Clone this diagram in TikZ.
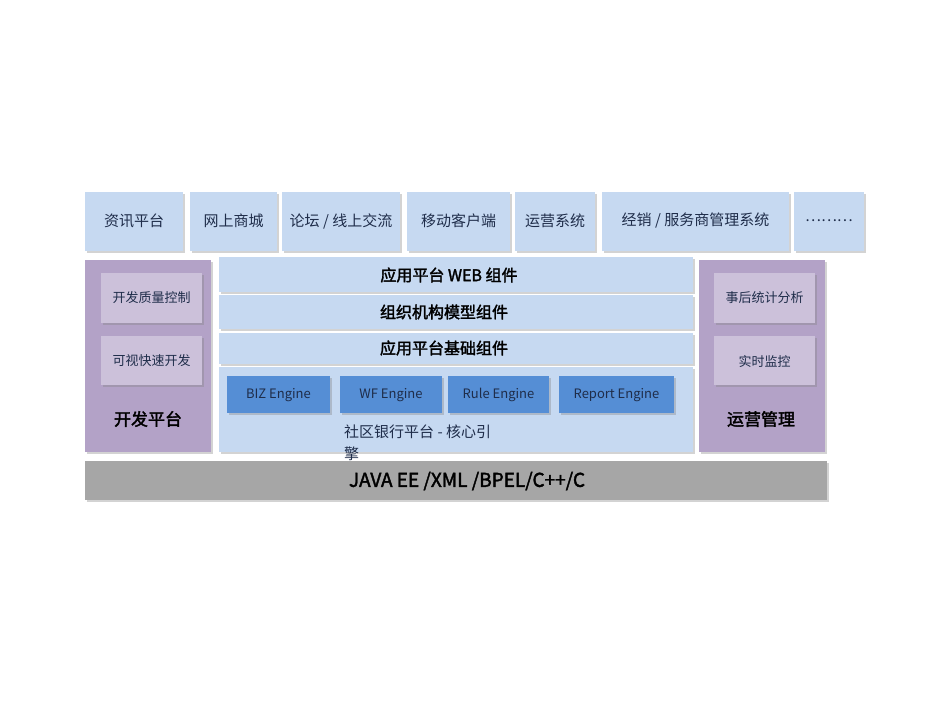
\documentclass[tikz,border=0pt]{standalone}
\usepackage{fontspec}
\setmainfont{Noto Sans CJK SC}
\newfontfamily\cjkb[FakeBold=2]{Noto Sans CJK SC}
\usetikzlibrary{shadows}
\definecolor{lb}{HTML}{C6D9F1}
\definecolor{pu}{HTML}{B3A2C7}
\definecolor{lp}{HTML}{CCC1DA}
\definecolor{eb}{HTML}{558ED5}
\definecolor{gr}{HTML}{A6A6A6}
\definecolor{tx}{HTML}{1F2D4A}
\tikzset{x=1pt,y=-1pt,
 bx/.style={drop shadow={shadow xshift=1.5pt,shadow yshift=-1.5pt,opacity=0.35,fill=black!50}},
 lab/.style={font=\fontsize{15}{18}\selectfont,text=tx},
 sm/.style={font=\fontsize{13}{16}\selectfont,text=tx},
 hd/.style={font=\cjkb\fontsize{16}{19}\selectfont,text=black}}
\begin{document}
\begin{tikzpicture}
\useasboundingbox (0,0) rectangle (950,713);
% top row
\foreach \a/\b/\t [count=\i] in {85/183/{资讯平台},190/277/{网上商城},282/400/{论坛 / 线上交流},407/510/{移动客户端},515/595/{运营系统},602/789/{经销 / 服务商管理系统},794/864/{\ldots\ldots\ldots}}{
 \fill[lb,bx] (\a,192) rectangle (\b,251);
 \node[lab] (t\i) at ({(\a+\b)/2},221) {\t};
}
% left purple
\fill[pu,bx] (85,260) rectangle (211,452);
\fill[lp,bx] (101,273) rectangle (202,323);
\fill[lp,bx] (101,336) rectangle (202,385);
\node[sm] (l1) at (151.5,298) {开发质量控制};
\node[sm] (l2) at (151.5,361) {可视快速开发};
\node[hd,font=\cjkb\fontsize{17}{20}\selectfont] (l3) at (148,419) {开发平台};
% right purple
\fill[pu,bx] (699,260) rectangle (825,452);
\fill[lp,bx] (714,273) rectangle (815,323);
\fill[lp,bx] (714,336) rectangle (815,385);
\node[sm] (r1) at (764.5,298) {事后统计分析};
\node[sm] (r2) at (764.5,361) {实时监控};
\node[hd,font=\cjkb\fontsize{17}{20}\selectfont] (r3) at (761,419) {运营管理};
% middle
\fill[lb,bx] (219,257) rectangle (693,292);
\fill[lb,bx] (219,295) rectangle (693,329);
\fill[lb,bx] (219,333) rectangle (693,364);
\fill[lb,bx] (219,367) rectangle (693,452);
\node[hd] (m1) at (449,275) {应用平台 WEB 组件};
\node[hd] (m2) at (444,312) {组织机构模型组件};
\node[hd] (m3) at (444,348) {应用平台基础组件};
\foreach \a/\b/\t [count=\i] in {227/330/{BIZ Engine},340/442/{WF Engine},448/549/{Rule Engine},559/674/{Report Engine}}{
 \fill[eb,bx] (\a,376) rectangle (\b,413);
 \node[sm] (e\i) at ({(\a+\b)/2},395) {\t};
}
\node[lab,anchor=north west,align=left,inner sep=0pt,font=\fontsize{15}{22}\selectfont] (core) at (344,425) {社区银行平台 - 核心引\\擎};
% bottom
\fill[gr,bx] (85,461) rectangle (827,500);
\node[font=\cjkb\fontsize{19}{22}\selectfont,text=black] (j) at (467,481) {JAVA EE /XML /BPEL/C++/C};
\end{tikzpicture}
\end{document}
